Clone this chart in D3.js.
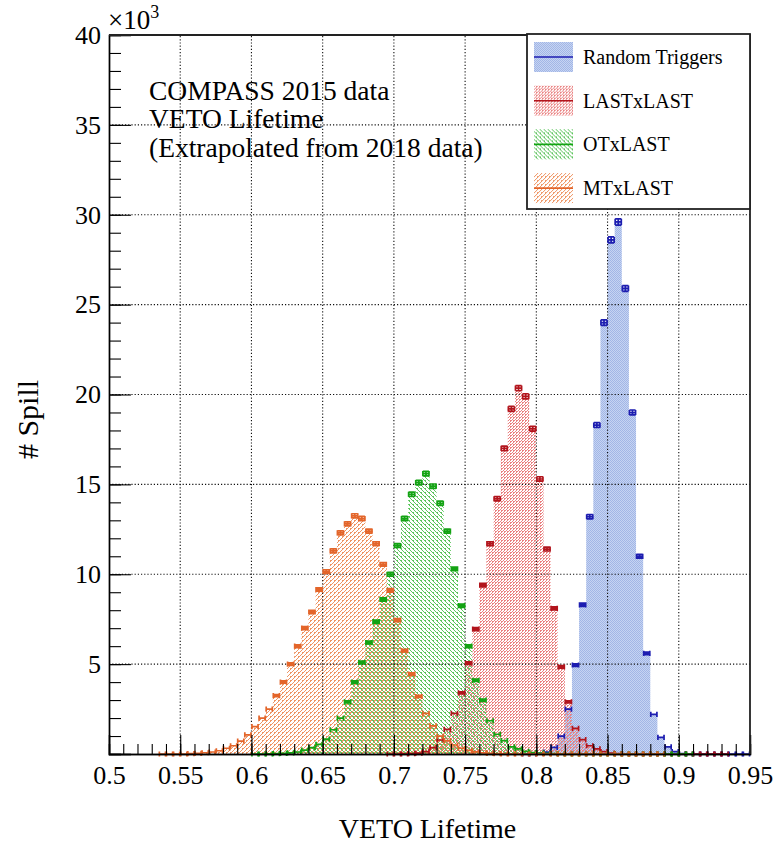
<!DOCTYPE html>
<html>
<head>
<meta charset="utf-8">
<script src="https://cdn.jsdelivr.net/npm/d3@7"></script>
<style>
  html, body { margin: 0; padding: 0; background: #fff; }
  svg { display: block; }
  text { font-family: "Liberation Serif", "Times New Roman", serif; fill: #000; }
</style>
</head>
<body>
<svg id="chart" width="777" height="843"></svg>
<script>
// Histograms of the VETO lifetime per spill, bin width 0.005, counts in units of 10^3
const binWidth = 0.005;

const seriesNames = ["Random Triggers", "LASTxLAST", "OTxLAST", "MTxLAST"];

// Random Triggers, first bin starts at 0.790
const randomStart = 0.790;
const randomValues = [0, 0, 0.03, 0.1, 0.37, 1.0, 2.5, 4.95, 8.3, 13.2, 18.3, 24.0, 28.6, 29.6,
  25.9, 19.0, 11.0, 5.6, 2.2, 0.93, 0.4, 0.13, 0.02, 0, 0, 0, 0, 0, 0, 0, 0, 0];

// LASTxLAST, first bin starts at 0.695
const lastValuesStart = 0.695;
const lastValues = [0, 0, 0.01, 0.02, 0.05, 0.13, 0.35, 0.78, 1.37, 2.26, 3.4, 5.05, 6.95, 9.4,
  11.7, 14.2, 17.0, 19.2, 20.35, 19.9, 18.1, 15.3, 11.4, 8.1, 4.85, 2.9, 1.43, 0.8, 0.46, 0.28,
  0.13, 0.05, 0.02, 0, 0, 0, 0, 0, 0, 0, 0, 0, 0, 0, 0, 0, 0, 0];

// OTxLAST, first bin starts at 0.600
const otStart = 0.600;
const otValues = [0, 0, 0.01, 0.02, 0.03, 0.06, 0.11, 0.22, 0.35, 0.54, 0.83, 1.35, 2.0, 2.9,
  4.0, 5.1, 6.2, 7.36, 8.6, 10.0, 11.6, 13.1, 14.45, 15.1, 15.6, 14.9, 13.95, 12.4, 10.3, 8.25,
  6.0, 4.1, 3.0, 1.85, 1.1, 0.74, 0.4, 0.28, 0.15, 0.08, 0.05, 0.03, 0.02, 0.01, 0, 0, 0, 0, 0,
  0, 0, 0, 0, 0, 0, 0, 0, 0, 0, 0, 0, 0];

// MTxLAST, first bin starts at 0.535
const mtStart = 0.535;
const mtValues = [0, 0, 0, 0, 0.02, 0.04, 0.07, 0.11, 0.18, 0.32, 0.46, 0.72, 1.06, 1.52, 2.0,
  2.5, 3.25, 4.0, 5.0, 6.0, 7.0, 7.9, 9.15, 10.15, 11.3, 12.3, 12.8, 13.25, 13.1, 12.4, 11.7,
  10.55, 9.1, 7.45, 5.75, 4.45, 3.2, 2.26, 1.56, 1.0, 0.74, 0.5, 0.32, 0.2, 0.12, 0.07, 0.04,
  0.02, 0.01, 0, 0, 0, 0, 0, 0, 0, 0, 0, 0, 0, 0, 0, 0, 0, 0, 0, 0, 0, 0, 0, 0];

const xMajorTicks = [0.5, 0.55, 0.6, 0.65, 0.7, 0.75, 0.8, 0.85, 0.9, 0.95];
const yMajorTicks = [0, 5, 10, 15, 20, 25, 30, 35, 40];

const annotationLines = ["COMPASS 2015 data", "VETO Lifetime", "(Extrapolated from 2018 data)"];

const series = [
  { name: seriesNames[0], start: randomStart, values: randomValues, color: "#1d1db0", fill: "url(#patBlue)" },
  { name: seriesNames[1], start: lastValuesStart, values: lastValues, color: "#b2141c", fill: "url(#patRed)" },
  { name: seriesNames[2], start: otStart, values: otValues, color: "#13a313", fill: "url(#patGreen)" },
  { name: seriesNames[3], start: mtStart, values: mtValues, color: "#e3652a", fill: "url(#patOrange)" }
];

const svg = d3.select("#chart");
const W = 777, H = 843;
const margin = { left: 109, right: 27, top: 35, bottom: 89 };

const x = d3.scaleLinear().domain([0.5, 0.95]).range([margin.left, W - margin.right]);
const y = d3.scaleLinear().domain([0, 40]).range([H - margin.bottom, margin.top]);

// ---- fill patterns (pixel tiles) ----
const defs = svg.append("defs");

function pixelPattern(id, size, bg, color, cells) {
  const p = defs.append("pattern").attr("id", id).attr("patternUnits", "userSpaceOnUse")
    .attr("width", size).attr("height", size);
  if (bg) p.append("rect").attr("width", size).attr("height", size).attr("fill", bg);
  p.selectAll("rect.px").data(cells).join("rect").attr("class", "px")
    .attr("x", d => d[0]).attr("y", d => d[1]).attr("width", 1).attr("height", 1)
    .attr("fill", color).attr("shape-rendering", "crispEdges");
}

// fine checker (blue)
pixelPattern("patBlue", 2, "#c6d4f2", "#a2b6e6", [[0, 0], [1, 1]]);
// dotted (red)
pixelPattern("patRed", 3, null, "#ea8282", [[0, 0], [1, 0], [0, 1], [2, 2]]);
// "\\\" hatch (green)
pixelPattern("patGreen", 4, null, "#5cc45c", [[0, 0], [1, 0], [1, 1], [2, 2], [3, 3]]);
// "///" hatch (orange)
pixelPattern("patOrange", 4, null, "#ee9462", [[3, 0], [2, 0], [2, 1], [1, 2], [0, 3]]);

// ---- bins ----
series.forEach(s => {
  s.bins = s.values.map((v, i) => {
    const x0 = +(s.start + i * binWidth).toFixed(4);
    return { x0, x1: +(x0 + binWidth).toFixed(4), v };
  });
});

// ---- filled step shapes ----
const area = d3.area()
  .curve(d3.curveStepAfter)
  .x(d => x(d.x))
  .y0(y(0))
  .y1(d => y(d.v));

const fills = svg.append("g").attr("class", "fills");
series.forEach(s => {
  const pts = s.bins.map(b => ({ x: b.x0, v: b.v }));
  const last = s.bins[s.bins.length - 1];
  pts.push({ x: last.x1, v: last.v });
  fills.append("path").attr("d", area(pts)).attr("fill", s.fill).attr("stroke", "none");
});

// ---- dotted grid ----
const grid = svg.append("g").attr("class", "grid")
  .attr("stroke", "#111").attr("stroke-width", 1.1).attr("stroke-dasharray", "1.2,2");
grid.selectAll("line.gx").data(xMajorTicks.slice(1, -1)).join("line")
  .attr("x1", d => x(d)).attr("x2", d => x(d))
  .attr("y1", y(0)).attr("y2", y(40));
grid.selectAll("line.gy").data(yMajorTicks.slice(1, -1)).join("line")
  .attr("y1", d => y(d)).attr("y2", d => y(d))
  .attr("x1", x(0.5)).attr("x2", x(0.95));

// ---- error-bar markers ----
const kPx = y(0) - y(1); // pixels per 10^3
const markers = svg.append("g").attr("class", "markers").attr("fill", "none");
series.forEach(s => {
  markers.append("g").attr("stroke", s.color).attr("stroke-width", 1.7)
    .selectAll("path").data(s.bins).join("path")
    .attr("d", b => {
      const xl = x(b.x0) + 0.5, xr = x(b.x1) - 0.5, xc = (xl + xr) / 2;
      const yc = y(b.v);
      const e = Math.sqrt(b.v * 1000) / 1000 * kPx;
      const c = Math.max(2.6, e);
      let d = `M${xl},${yc}H${xr}M${xl},${yc - c}V${yc + c}M${xr},${yc - c}V${yc + c}`;
      if (e > 0.9) {
        d += `M${xc},${yc - e}V${yc + e}M${xl},${yc - e}H${xr}M${xl},${yc + e}H${xr}`;
      }
      return d;
    });
});

// ---- axes ----
const yAxisMinor = d3.axisLeft(y).tickValues(d3.range(0, 41, 1)).tickSize(-12).tickFormat("");
const yAxisMajor = d3.axisLeft(y).tickValues(yMajorTicks).tickSize(-22).tickPadding(8)
  .tickFormat(d => d === 0 ? "" : d3.format("d")(d));
const xAxisMinor = d3.axisBottom(x).tickValues(d3.range(50, 96, 1).map(v => v / 100)).tickSize(-10).tickFormat("");
const xAxisMajor = d3.axisBottom(x).tickValues(xMajorTicks).tickSize(-19).tickPadding(12)
  .tickFormat(d3.format(""));

function styleAxis(g) {
  g.select(".domain").attr("stroke", "#000").attr("stroke-width", 1.4);
  g.selectAll(".tick line").attr("stroke", "#000").attr("stroke-width", 1.1);
  g.selectAll(".tick text").style("font-family", '"Liberation Serif", "Times New Roman", serif')
    .style("font-size", "26px").attr("fill", "#000");
}

svg.append("g").attr("transform", `translate(${x(0.5)},0)`).call(yAxisMinor).call(styleAxis);
svg.append("g").attr("transform", `translate(${x(0.5)},0)`).call(yAxisMajor).call(styleAxis);
svg.append("g").attr("transform", `translate(0,${y(0)})`).call(xAxisMinor).call(styleAxis);
svg.append("g").attr("transform", `translate(0,${y(0)})`).call(xAxisMajor).call(styleAxis);

// frame top and right
svg.append("path")
  .attr("d", `M${x(0.5)},${y(40)}H${x(0.95)}V${y(0)}`)
  .attr("fill", "none").attr("stroke", "#222").attr("stroke-width", 1.8);

// exponent label
const expo = svg.append("text").attr("x", x(0.5) - 1).attr("y", y(40) - 6)
  .style("font-size", "27px");
expo.append("tspan").text("\u00d710");
expo.append("tspan").attr("dy", -11).style("font-size", "18px").text("3");

// axis titles
svg.append("text").attr("x", (x(0.5) + x(0.95)) / 2 - 2).attr("y", 838)
  .attr("text-anchor", "middle").style("font-size", "28px").text("VETO Lifetime");
svg.append("text").attr("transform", `translate(38,${(y(0) + y(40)) / 2 + 25}) rotate(-90)`)
  .attr("text-anchor", "middle").style("font-size", "30px").text("# Spill");

// annotation
svg.append("g").selectAll("text").data(annotationLines).join("text")
  .attr("x", 149).attr("y", (d, i) => 100 + i * 28.3)
  .style("font-size", "27.5px").text(d => d);

// ---- legend ----
const legend = svg.append("g").attr("transform", "translate(527,34)");
legend.append("rect").attr("width", 223).attr("height", 175)
  .attr("fill", "#fff").attr("stroke", "#222").attr("stroke-width", 1.8);
const rows = legend.selectAll("g.row").data(series).join("g")
  .attr("transform", (d, i) => `translate(0,${23 + i * 43.7})`);
rows.append("rect").attr("x", 7).attr("y", -15).attr("width", 39).attr("height", 30)
  .attr("fill", d => d.fill);
rows.append("line").attr("x1", 7).attr("x2", 46).attr("y1", 0).attr("y2", 0)
  .attr("stroke", d => d.color).attr("stroke-width", 1.6);
rows.append("text").attr("x", 56).attr("y", 7).style("font-size", "20px").text(d => d.name);
</script>
</body>
</html>
